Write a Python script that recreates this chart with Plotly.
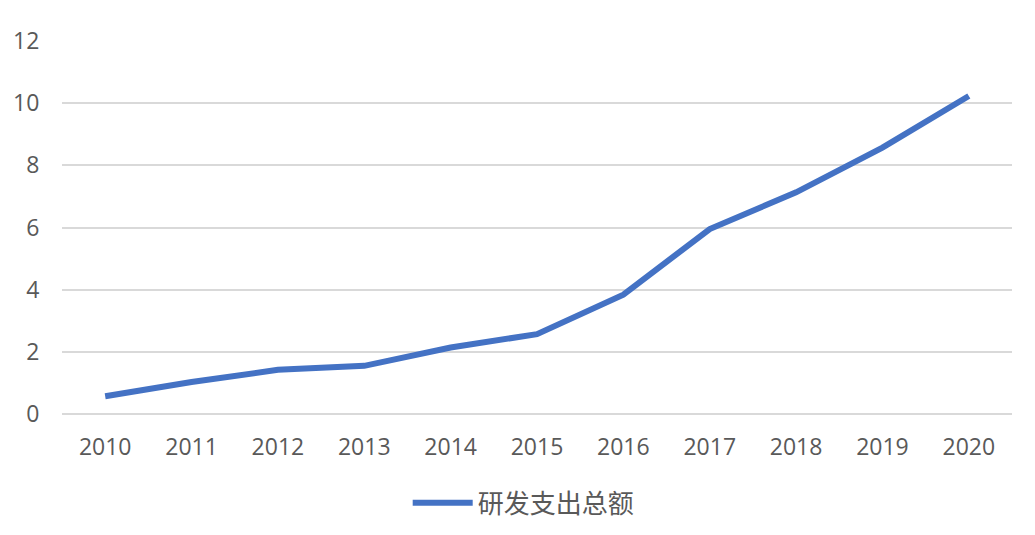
import plotly.graph_objects as go

years = ["2010", "2011", "2012", "2013", "2014", "2015", "2016", "2017", "2018", "2019", "2020"]
rd_total = [0.57, 1.03, 1.42, 1.55, 2.14, 2.57, 3.84, 5.95, 7.13, 8.57, 10.23]
series_name = "研发支出总额"

fig = go.Figure()
fig.add_trace(go.Scatter(x=years, y=rd_total, mode="lines", name=series_name,
                         line=dict(color="#4472C4", width=6)))

fig.update_layout(
    width=1035, height=535,
    margin=dict(l=54, r=31, t=33, b=129),
    paper_bgcolor="white", plot_bgcolor="white",
    font=dict(family="Open Sans, Noto Sans CJK SC", size=23, color="#595959"),
    showlegend=True,
    legend=dict(orientation="h", x=0.486, xanchor="center", y=-0.238, yanchor="middle",
                itemwidth=60, font=dict(family="Noto Sans CJK SC", size=26, color="#595959")),
)
fig.update_xaxes(type="category", range=[-0.5, 10.5], showgrid=False,
                 showline=False, zeroline=False, automargin=False,
                 ticks="outside", ticklen=12, tickcolor="rgba(0,0,0,0)")
fig.update_yaxes(range=[0, 12], dtick=2, showgrid=True, gridcolor="#D9D9D9", gridwidth=1.5,
                 zeroline=True, zerolinecolor="#D9D9D9", zerolinewidth=1.5, showline=False,
                 automargin=False,
                 ticks="outside", ticklen=17, tickcolor="rgba(0,0,0,0)")

fig.write_html("out.html")
